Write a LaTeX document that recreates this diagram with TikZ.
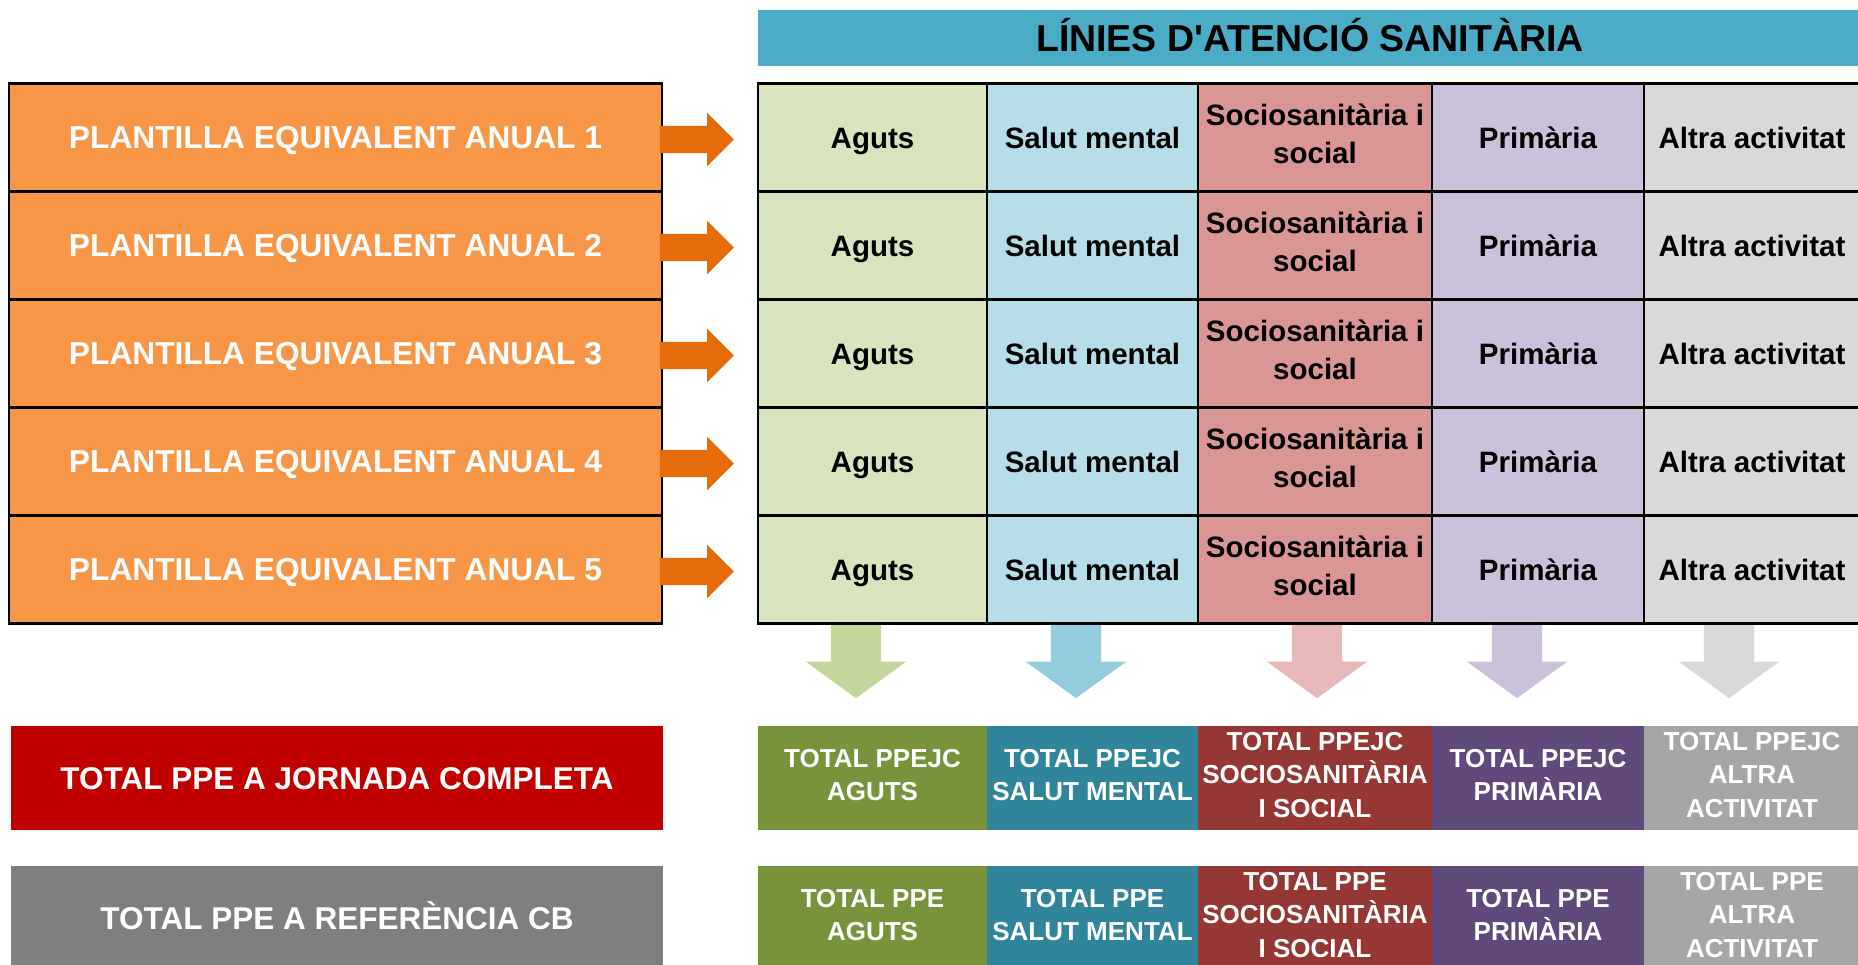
\documentclass[tikz,border=0pt]{standalone}
\usepackage{fontspec}
\setmainfont{Liberation Sans}
\usetikzlibrary{shapes,arrows,positioning,calc}
\definecolor{plorange}{RGB}{247,150,70}
\definecolor{arrorange}{RGB}{228,108,10}
\definecolor{headblue}{RGB}{75,172,198}
\definecolor{agutsfill}{RGB}{215,228,189}
\definecolor{salutfill}{RGB}{183,222,232}
\definecolor{sociofill}{RGB}{217,150,148}
\definecolor{primfill}{RGB}{204,193,218}
\definecolor{altrafill}{RGB}{217,217,217}
\definecolor{agutsarr}{RGB}{195,214,155}
\definecolor{salutarr}{RGB}{147,205,221}
\definecolor{socioarr}{RGB}{230,185,184}
\definecolor{primarr}{RGB}{204,193,218}
\definecolor{altraarr}{RGB}{217,217,217}
\definecolor{agutsdark}{RGB}{119,147,60}
\definecolor{salutdark}{RGB}{49,133,155}
\definecolor{sociodark}{RGB}{149,55,53}
\definecolor{primdark}{RGB}{96,74,123}
\definecolor{altradark}{RGB}{166,166,166}
\definecolor{jornadared}{RGB}{192,0,0}
\definecolor{refgrey}{RGB}{127,127,127}
\newcommand{\apos}{\XeTeXglyph\XeTeXcharglyph"0027\relax}
\newcommand{\capstrut}{\rule[-0.25em]{0pt}{1.22em}}

\begin{document}
\begin{tikzpicture}[x=1pt,y=-1pt,
    struts/.style={execute at begin node=\capstrut, execute at end node=\capstrut},
    title/.style={struts, fill=headblue, minimum width=1104pt, minimum height=56pt, inner sep=0pt, font=\fontsize{37.5}{40}\selectfont\bfseries},
    plantilla/.style={struts, draw=black, line width=2.5pt, fill=plorange, text=white, font=\fontsize{31.7}{36}\selectfont\bfseries, minimum width=653pt, minimum height=108pt, inner sep=0pt},
    cell/.style={struts, draw=black, line width=2.5pt, font=\fontsize{29.5}{38}\selectfont\bfseries, minimum height=108pt, inner sep=0pt, align=center},
    totalbox/.style={struts, text=white, font=\fontsize{26}{33.5}\selectfont\bfseries, minimum height=104pt, inner sep=0pt, align=center},
    bigtotal/.style={struts, text=white, font=\fontsize{31.5}{36}\selectfont\bfseries, minimum width=652pt, minimum height=104pt, inner sep=0pt},
    rarrow/.style={single arrow, fill=arrorange, minimum height=74pt, inner sep=13.5pt, single arrow head extend=13pt},
    darrow/.style={single arrow, rotate=-90, minimum height=73pt, inner sep=25pt, single arrow head extend=25pt, single arrow tip angle=108}]
    \useasboundingbox (0,0) rectangle (1858,965);
    \clip (0,0) rectangle (1858,965);

    % title bar
    \node[title] (linies) at (1310,38) {LÍNIES D\apos ATENCIÓ SANITÀRIA};

    % plantilla boxes and arrows
    \node[plantilla] (pe1) at (335.5,137.5) {PLANTILLA EQUIVALENT ANUAL 1};
    \node[plantilla] (pe2) at (335.5,245.5) {PLANTILLA EQUIVALENT ANUAL 2};
    \node[plantilla] (pe3) at (335.5,353.5) {PLANTILLA EQUIVALENT ANUAL 3};
    \node[plantilla] (pe4) at (335.5,461.5) {PLANTILLA EQUIVALENT ANUAL 4};
    \node[plantilla] (pe5) at (335.5,569.5) {PLANTILLA EQUIVALENT ANUAL 5};
    \node[rarrow] (ar1) at (690,139.5) {};
    \node[rarrow] (ar2) at (690,247.5) {};
    \node[rarrow] (ar3) at (690,355.5) {};
    \node[rarrow] (ar4) at (690,463.5) {};
    \node[rarrow] (ar5) at (690,571.5) {};

    % table of lines
    \node[cell, fill=agutsfill, minimum width=229pt] (ag1) at (872.5,137.5) {Aguts};
    \node[cell, fill=salutfill, minimum width=211pt] (sm1) at (1092.5,137.5) {Salut mental};
    \node[cell, fill=sociofill, minimum width=234pt] (so1) at (1315,137.5) {Sociosanitària i\\social};
    \node[cell, fill=primfill, minimum width=212pt] (pr1) at (1538,137.5) {Primària};
    \node[cell, fill=altrafill, minimum width=216pt] (al1) at (1752,137.5) {Altra activitat};
    \node[cell, fill=agutsfill, minimum width=229pt] (ag2) at (872.5,245.5) {Aguts};
    \node[cell, fill=salutfill, minimum width=211pt] (sm2) at (1092.5,245.5) {Salut mental};
    \node[cell, fill=sociofill, minimum width=234pt] (so2) at (1315,245.5) {Sociosanitària i\\social};
    \node[cell, fill=primfill, minimum width=212pt] (pr2) at (1538,245.5) {Primària};
    \node[cell, fill=altrafill, minimum width=216pt] (al2) at (1752,245.5) {Altra activitat};
    \node[cell, fill=agutsfill, minimum width=229pt] (ag3) at (872.5,353.5) {Aguts};
    \node[cell, fill=salutfill, minimum width=211pt] (sm3) at (1092.5,353.5) {Salut mental};
    \node[cell, fill=sociofill, minimum width=234pt] (so3) at (1315,353.5) {Sociosanitària i\\social};
    \node[cell, fill=primfill, minimum width=212pt] (pr3) at (1538,353.5) {Primària};
    \node[cell, fill=altrafill, minimum width=216pt] (al3) at (1752,353.5) {Altra activitat};
    \node[cell, fill=agutsfill, minimum width=229pt] (ag4) at (872.5,461.5) {Aguts};
    \node[cell, fill=salutfill, minimum width=211pt] (sm4) at (1092.5,461.5) {Salut mental};
    \node[cell, fill=sociofill, minimum width=234pt] (so4) at (1315,461.5) {Sociosanitària i\\social};
    \node[cell, fill=primfill, minimum width=212pt] (pr4) at (1538,461.5) {Primària};
    \node[cell, fill=altrafill, minimum width=216pt] (al4) at (1752,461.5) {Altra activitat};
    \node[cell, fill=agutsfill, minimum width=229pt] (ag5) at (872.5,569.5) {Aguts};
    \node[cell, fill=salutfill, minimum width=211pt] (sm5) at (1092.5,569.5) {Salut mental};
    \node[cell, fill=sociofill, minimum width=234pt] (so5) at (1315,569.5) {Sociosanitària i\\social};
    \node[cell, fill=primfill, minimum width=212pt] (pr5) at (1538,569.5) {Primària};
    \node[cell, fill=altrafill, minimum width=216pt] (al5) at (1752,569.5) {Altra activitat};

    % arrows down to the totals
    \node[darrow, fill=agutsarr] (dag) at (856,652.5) {};
    \node[darrow, fill=salutarr] (dsm) at (1076,652.5) {};
    \node[darrow, fill=socioarr] (dso) at (1317,652.5) {};
    \node[darrow, fill=primarr] (dpr) at (1517,652.5) {};
    \node[darrow, fill=altraarr] (dal) at (1729,652.5) {};

    % totals
    \node[bigtotal, fill=jornadared] (tjc) at (337,778) {TOTAL PPE A JORNADA COMPLETA};
    \node[bigtotal, fill=refgrey] (tcb) at (337,918) {TOTAL PPE A REFERÈNCIA CB};
    \node[totalbox, fill=agutsdark, minimum width=229pt] (jag) at (872.5,778) {TOTAL PPEJC\\AGUTS};
    \node[totalbox, fill=salutdark, minimum width=211pt] (jsm) at (1092.5,778) {TOTAL PPEJC\\SALUT MENTAL};
    \node[totalbox, fill=sociodark, minimum width=234pt] (jso) at (1315,778) {TOTAL PPEJC\\SOCIOSANITÀRIA\\I SOCIAL};
    \node[totalbox, fill=primdark, minimum width=212pt] (jpr) at (1538,778) {TOTAL PPEJC\\PRIMÀRIA};
    \node[totalbox, fill=altradark, minimum width=216pt] (jal) at (1752,778) {TOTAL PPEJC\\ALTRA\\ACTIVITAT};
    \node[totalbox, fill=agutsdark, minimum width=229pt] (cag) at (872.5,918) {TOTAL PPE\\AGUTS};
    \node[totalbox, fill=salutdark, minimum width=211pt] (csm) at (1092.5,918) {TOTAL PPE\\SALUT MENTAL};
    \node[totalbox, fill=sociodark, minimum width=234pt] (cso) at (1315,918) {TOTAL PPE\\SOCIOSANITÀRIA\\I SOCIAL};
    \node[totalbox, fill=primdark, minimum width=212pt] (cpr) at (1538,918) {TOTAL PPE\\PRIMÀRIA};
    \node[totalbox, fill=altradark, minimum width=216pt] (cal) at (1752,918) {TOTAL PPE\\ALTRA\\ACTIVITAT};
\end{tikzpicture}
\end{document}
